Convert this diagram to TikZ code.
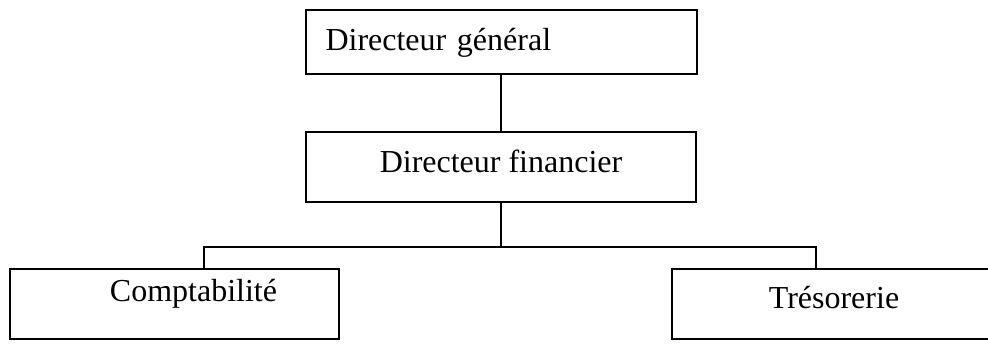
\documentclass[tikz,border=0pt]{standalone}
\usepackage{fontspec}
\setmainfont{Liberation Serif}
\begin{document}
\begin{tikzpicture}[x=0.5pt, y=-0.5pt,
        boite/.style={draw, line width=1pt, inner sep=0pt, minimum height=35pt,
        font=\fontsize{16pt}{19pt}\selectfont},
        trait/.style={line width=1pt}
    ]
        \useasboundingbox (0,0) rectangle (988,343);
        \clip (0,0) rectangle (988,343);
        \node[boite, minimum width=195.5pt, minimum height=32pt, text width=175.5pt,
        inner xsep=10pt, align=left, text height=12pt, text depth=4pt] (dg) at (501,42)
        {Directeur général};
        \node[boite, minimum width=195pt, text height=11pt, text depth=6pt] (df) at (501,167)
        {Directeur financier};
        \node[boite, minimum width=164.5pt, text width=102.5pt, inner xsep=31pt, align=right,
        text height=10pt, text depth=13pt] (compta) at (174.5,304) {Comptabilité};
        \node[boite, minimum width=162pt, text height=11pt, text depth=7pt] (treso) at (834,304)
        {Trésorerie};
        \coordinate (gauche) at (204,247);
        \coordinate (droite) at (816,247);
        \draw[trait] (dg.south) -- (dg.south |- df.north);
        \draw[trait] (df.south) -- (df.south |- gauche);
        \draw[trait] (gauche |- compta.north) -- (gauche) -- (droite) -- (droite |- treso.north);
    \end{tikzpicture}
\end{document}
